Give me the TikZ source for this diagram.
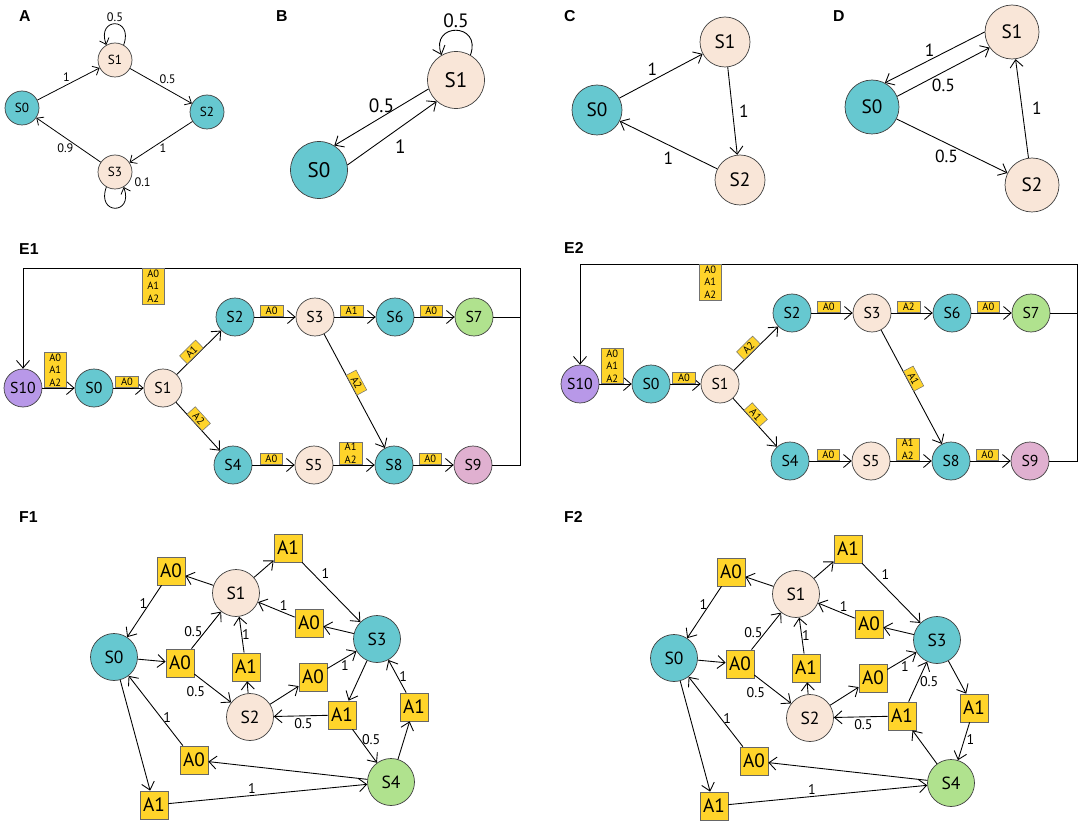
\documentclass[tikz,border=0pt]{standalone}
\usepackage{fontspec}
\setmainfont{PT Sans}
\newfontfamily\headfont{Liberation Sans}
\usetikzlibrary{arrows.meta,positioning}

\definecolor{tealst}{RGB}{102,200,208}
\definecolor{beigest}{RGB}{249,230,216}
\definecolor{greenst}{RGB}{176,226,142}
\definecolor{purplest}{RGB}{184,152,232}
\definecolor{pinkst}{RGB}{224,176,208}
\definecolor{actyellow}{RGB}{255,212,42}

\begin{document}
\begin{tikzpicture}[
        x=0.02cm, y=-0.02cm,
        panel/.style={anchor=west, font=\headfont\bfseries\fontsize{9}{10}\selectfont},
        state/.style={circle, draw=black!75, line width=0.4pt, inner sep=0pt},
        stA/.style={state, minimum size=6.8mm, font=\fontsize{7.5}{8}\selectfont},
        stB/.style={state, minimum size=11.4mm, font=\fontsize{12}{13}\selectfont},
        stC/.style={state, minimum size=10mm, font=\fontsize{11}{12}\selectfont},
        stD/.style={state, minimum size=10.8mm, font=\fontsize{11}{12}\selectfont},
        stE/.style={state, minimum size=7.6mm, font=\fontsize{9}{10}\selectfont},
        stF/.style={state, minimum size=9.4mm, font=\fontsize{10}{11}\selectfont},
        abox/.style={rectangle, draw=black!55, fill=actyellow, line width=0.3pt, inner sep=0.8pt,
            minimum width=4.5mm, minimum height=2.2mm, align=center, font=\fontsize{6}{7.2}\selectfont},
        act/.style={rectangle, draw=black!60, fill=actyellow, line width=0.4pt, inner sep=0pt,
            minimum size=5.6mm, font=\fontsize{11}{12}\selectfont},
        wA/.style={font=\fontsize{7}{8}\selectfont, inner sep=1pt},
        wB/.style={font=\fontsize{11}{12}\selectfont, inner sep=1.5pt},
        wCD/.style={font=\fontsize{10}{11}\selectfont, inner sep=1.5pt},
        wF/.style={font=\fontsize{8}{9}\selectfont, inner sep=1pt},
        arrow/.style={-{Straight Barb[length=1.5mm,width=2.6mm]}, line width=0.5pt},
        arrA/.style={-{Straight Barb[length=1.1mm,width=2mm]}, line width=0.45pt},
        plain/.style={line width=0.5pt}
    ]
    \useasboundingbox (0,0) rectangle (1084,827);

    % Panel A
    \node[panel] (labA) at (13,16) {A};
    \node[stA, fill=tealst] (a0) at (22,108) {S0};
    \node[stA, fill=beigest] (a1) at (115,60) {S1};
    \node[stA, fill=tealst] (a2) at (207,112) {S2};
    \node[stA, fill=beigest] (a3) at (115,172) {S3};
    \draw[arrA] (a0) -- node[wA, above left=0pt and -2pt] {1} (a1);
    \draw[arrA] (a1) -- node[wA, above right=0pt and -2pt] {0.5} (a2);
    \draw[arrA] (a2) -- node[wA, below right=0pt and -2pt] {1} (a3);
    \draw[arrA] (a3) -- node[wA, below left=1pt and -4pt] {0.9} (a0);
    \draw[arrA] (a1.60) to[out=70, in=110, distance=0.6cm] node[wA, above] {0.5} (a1.120);
    \draw[arrA] (a3.240) to[out=250, in=290, distance=0.6cm] node[wA, pos=1, right=5pt, yshift=3pt] {0.1} (a3.300);

    % Panel B
    \node[panel] (labB) at (270,16) {B};
    \node[stB, fill=tealst] (b0) at (319,170) {S0};
    \node[stB, fill=beigest] (b1) at (456,80) {S1};
    \draw[arrow] (b1.198) -- node[wB, above=1pt] {0.5} (b0.58);
    \draw[arrow] (b0.10) -- node[wB, below right=2pt and 0pt] {1} (b1.228);
    \draw[arrow] (b1.60) to[out=70, in=110, distance=0.7cm] node[wB, above] {0.5} (b1.120);

    % Panel C
    \node[panel] (labC) at (558,16) {C};
    \node[stC, fill=tealst] (c0) at (597,110) {S0};
    \node[stC, fill=beigest] (c1) at (725,42) {S1};
    \node[stC, fill=beigest] (c2) at (740,180) {S2};
    \draw[arrow] (c0) -- node[wCD, above left=0pt and -2pt, pos=0.45] {1} (c1);
    \draw[arrow] (c1) -- node[wCD, right=2pt] {1} (c2);
    \draw[arrow] (c2) -- node[wCD, below=2pt] {1} (c0);

    % Panel D
    \node[panel] (labD) at (827,16) {D};
    \node[stD, fill=tealst] (d0) at (872,107) {S0};
    \node[stD, fill=beigest] (d1) at (1012,32) {S1};
    \node[stD, fill=beigest] (d2) at (1032,185) {S2};
    \draw[arrow] (d1.180) -- node[wCD, above, pos=0.55] {1} (d0.62);
    \draw[arrow] (d0.23) -- node[wCD, below=2pt] {0.5} (d1.215);
    \draw[arrow] (d0) -- node[wCD, below=2pt, pos=0.45] {0.5} (d2);
    \draw[arrow] (d2) -- node[wCD, right=4pt] {1} (d1);

    % Panels E1 and E2
    \node[panel] (labE1) at (13,249) {E1};
    \node[panel] (labE2) at (558,248) {E2};
    \foreach \p/\dx/\dy/\la/\lb/\lc/\ld in {E1/0/0/A1/A2/A1/A2, E2/557/-4/A2/A1/A2/A1}{
        \begin{scope}[shift={(\dx,\dy)}]
            \node[stE, fill=purplest] (\p-s10) at (23,388) {S10};
            \node[stE, fill=tealst] (\p-s0) at (94,388) {S0};
            \node[stE, fill=beigest] (\p-s1) at (163,388) {S1};
            \node[stE, fill=tealst] (\p-s2) at (235,317) {S2};
            \node[stE, fill=beigest] (\p-s3) at (315,317) {S3};
            \node[stE, fill=tealst] (\p-s6) at (395,317) {S6};
            \node[stE, fill=greenst] (\p-s7) at (474,317) {S7};
            \node[stE, fill=tealst] (\p-s4) at (233,465) {S4};
            \node[stE, fill=beigest] (\p-s5) at (314,465) {S5};
            \node[stE, fill=tealst] (\p-s8) at (394,465) {S8};
            \node[stE, fill=pinkst] (\p-s9) at (473,465) {S9};
            \coordinate (\p-tr) at (520,268);
            \coordinate (\p-tl) at (23,268);

            \draw[arrow] (\p-s10) -- node[abox, above, pos=0.4] {A0\\A1\\A2} (\p-s0);
            \draw[arrow] (\p-s0) -- node[abox, above, pos=0.45] {A0} (\p-s1);
            \draw[arrow] (\p-s1) -- node[abox, sloped, above, pos=0.42] {\la} (\p-s2);
            \draw[arrow] (\p-s1) -- node[abox, sloped, above, pos=0.42] {\lb} (\p-s4);
            \draw[arrow] (\p-s2) -- node[abox, above, pos=0.42] {A0} (\p-s3);
            \draw[arrow] (\p-s3) -- node[abox, above, pos=0.42] {\lc} (\p-s6);
            \draw[arrow] (\p-s6) -- node[abox, above, pos=0.42] {A0} (\p-s7);
            \draw[arrow] (\p-s3) -- node[abox, sloped, above, pos=0.45] {\ld} (\p-s8);
            \draw[arrow] (\p-s4) -- node[abox, above, pos=0.45] {A0} (\p-s5);
            \draw[arrow] (\p-s5) -- node[abox, above, pos=0.42] {A1\\A2} (\p-s8);
            \draw[arrow] (\p-s8) -- node[abox, above, pos=0.42] {A0} (\p-s9);
            \draw[plain] (\p-s7) -- (\p-s7 -| \p-tr);
            \draw[arrow] (\p-s9) -| (\p-tr) -- node[abox, below, pos=0.738] {A0\\A1\\A2} (\p-tl) -- (\p-s10);
        \end{scope}
    }

    % Panels F1 and F2
    \node[panel] (labF1) at (13,517) {F1};
    \node[panel] (labF2) at (558,517) {F2};
    \foreach \p/\dx/\dy in {F1/0/0, F2/560/1}{
        \begin{scope}[shift={(\dx,\dy)}]
            \node[stF, fill=tealst] (\p-s0) at (114,657) {S0};
            \node[stF, fill=beigest] (\p-s1) at (236,593) {S1};
            \node[stF, fill=beigest] (\p-s2) at (250,717) {S2};
            \node[stF, fill=tealst] (\p-s3) at (377,639) {S3};
            \node[stF, fill=greenst] (\p-s4) at (391,782) {S4};
            \node[act] (\p-a0top) at (171,571) {A0};
            \node[act] (\p-a0mid) at (180,663) {A0};
            \node[act] (\p-a1mid) at (246,667) {A1};
            \node[act] (\p-a0bot) at (194,760) {A0};
            \node[act] (\p-a1bot) at (154,805) {A1};
            \node[act] (\p-a1top) at (288,548) {A1};
            \node[act] (\p-a0s1) at (309,623) {A0};
            \node[act] (\p-a0s3) at (313,677) {A0};
            \node[act] (\p-a1s2) at (342,715) {A1};
            \node[act] (\p-a1s4) at (414,707) {A1};

            \draw[arrow] (\p-s1) -- (\p-a0top);
            \draw[arrow] (\p-a0top) -- node[wF, left, pos=0.35] {1} (\p-s0);
            \draw[arrow] (\p-s0) -- (\p-a0mid);
            \draw[arrow] (\p-a0mid) -- node[wF, left, pos=0.45] {0.5} (\p-s1);
            \draw[arrow] (\p-a0mid) -- node[wF, below left=0pt, pos=0.35] {0.5} (\p-s2);
            \draw[arrow] (\p-s2) -- (\p-a1mid);
            \draw[arrow] (\p-a1mid) -- node[wF, right=-1pt, pos=0.5] {1} (\p-s1);
            \draw[arrow] (\p-a0bot) -- node[wF, right, pos=0.4] {1} (\p-s0);
            \draw[arrow] (\p-s0) -- (\p-a1bot);
            \draw[arrow] (\p-a1bot) -- node[wF, above, pos=0.42] {1} (\p-s4);
            \draw[arrow] (\p-s4) -- (\p-a0bot);
            \draw[arrow] (\p-s1) -- (\p-a1top);
            \draw[arrow] (\p-a1top) -- node[wF, above right=0pt, pos=0.3] {1} (\p-s3);
            \draw[arrow] (\p-s3) -- (\p-a0s1);
            \draw[arrow] (\p-a0s1) -- node[wF, above, pos=0.3] {1} (\p-s1);
            \draw[arrow] (\p-s2) -- (\p-a0s3);
            \draw[arrow] (\p-a0s3) -- node[wF, below, pos=0.6] {1} (\p-s3);
            \draw[arrow] (\p-a1s2) -- node[wF, below, pos=0.45] {0.5} (\p-s2);
        \end{scope}
    }
    % F1 only
    \draw[arrow] (F1-s3) -- (F1-a1s2);
    \draw[arrow] (F1-a1s2) -- node[wF, right, pos=0.3] {0.5} (F1-s4);
    \draw[arrow] (F1-s4) -- (F1-a1s4);
    \draw[arrow] (F1-a1s4) -- node[wF, right, pos=0.5] {1} (F1-s3);
    % F2 only
    \draw[arrow] (F2-s4) -- (F2-a1s2);
    \draw[arrow] (F2-a1s2) -- node[wF, right, pos=0.5] {0.5} (F2-s3);
    \draw[arrow] (F2-s3) -- (F2-a1s4);
    \draw[arrow] (F2-a1s4) -- node[wF, right, pos=0.45] {1} (F2-s4);

\end{tikzpicture}
\end{document}
